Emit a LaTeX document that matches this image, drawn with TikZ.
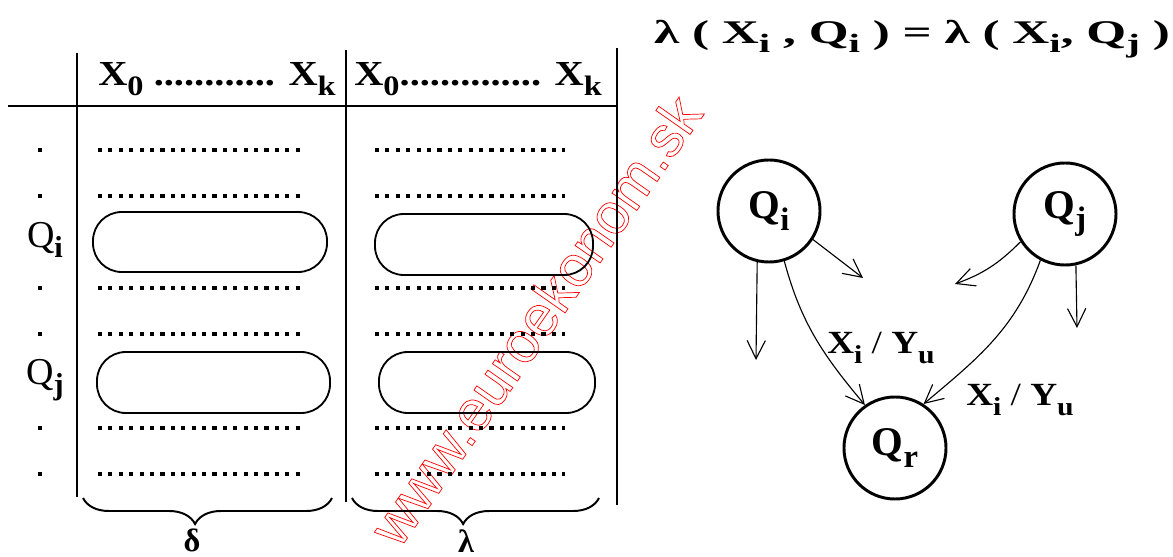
\documentclass[tikz,border=0pt]{standalone}
\usepackage{fontspec}
\setmainfont{Liberation Serif}
\newfontfamily\markfont{Liberation Sans}
\usetikzlibrary{arrows.meta,decorations.pathreplacing}

\newcommand{\low}[1]{\raisebox{-0.28em}{\scalebox{0.8}{#1}}}
\newcommand{\wide}[1]{\scalebox{1.15}[1]{#1}}

\begin{document}
\begin{tikzpicture}[x=0.025cm,y=-0.025cm,
  rule/.style={line width=1.4pt},
  dotrow/.style={line width=2.9pt,dash pattern=on 2.9pt off 4.5pt},
  slot/.style={draw,line width=1.3pt,rounded corners=0.72cm},
  state/.style={circle,draw,line width=2.1pt,minimum size=2.55cm,inner sep=0pt,
                font=\fontsize{29}{30}\selectfont\bfseries},
  head/.style={font=\fontsize{25}{28}\selectfont\bfseries,inner sep=0pt,anchor=base west},
  lbl/.style={font=\fontsize{23}{26}\selectfont\bfseries,inner sep=0pt},
  rowq/.style={font=\fontsize{27}{28}\selectfont,inner sep=0pt},
  vee/.style={-{Straight Barb[length=13pt,width=13pt]},line width=0.8pt},
  brc/.style={decorate,decoration={brace,mirror,amplitude=0.65cm,aspect=0.45},line width=1.4pt}
]
\useasboundingbox (0,0) rectangle (1173,557);

% watermark
\node[rotate=55,text=red,font=\markfont\fontsize{41}{41}\selectfont] (mark) at (535,320)
  {\special{pdf:literal direct 1 Tr 0.5 w}www.euroekonom.sk\special{pdf:literal direct 0 Tr}};

% table frame
\draw[rule] (8,106) -- (617,106);
\draw[rule] (77,53) -- (77,497);
\draw[rule] (346,50) -- (346,502);
\draw[rule] (617,48) -- (617,505);

% column heads
\node[head] (h1) at (98,86) {\wide{X\low{0} ............ X\low{k}}};
\node[head] (h2) at (354,86) {\wide{X\low{0}.............. X\low{k}}};

% dotted rows and row marks
\foreach \y in {150,196,288,334,428,474}{
  \draw[dotrow] (98,\y) -- (302,\y);
  \draw[dotrow] (375,\y) -- (565,\y);
  \fill (38,\y-2) rectangle (42,\y+2);
}
\node[rowq] (ri) at (45,240) {Q\low{\textbf{i}}};
\node[rowq] (rj) at (45,380) {Q\low{\textbf{j}}};

% selected rows
\draw[slot] (93,212) rectangle (327,272);
\draw[slot] (97,352) rectangle (330,413);
\draw[slot] (375,214) rectangle (593,275);
\draw[slot] (379,352) rectangle (595,413);

% braces
\draw[brc] (83,498) -- (332,498);
\draw[brc] (352,498) -- (599,498);
\node[lbl,anchor=north] (d) at (192,529) {δ};
\node[lbl,anchor=north] (l) at (466,529) {λ};

% formula
\node[font=\fontsize{23.5}{26}\selectfont\bfseries,inner sep=0pt] (eq) at (912,39)
  {\scalebox{1.55}[1]{λ ( X\low{i} , Q\low{i} ) =  λ ( X\low{i}, Q\low{j} )}};

% automaton
\node[state] (qi) at (769,211) {Q\low{i}};
\node[state] (qj) at (1065,214) {Q\low{j}};
\node[state] (qr) at (895,448) {Q\low{r}};

\coordinate (ia) at (756,360);
\coordinate (ib) at (863,278);
\coordinate (ja) at (955,284);
\coordinate (jb) at (1077,328);

\draw[vee] (qi.-103) -- (ia);
\draw[vee] (qi.-33) -- (ib);
\draw[vee] (qj.-148) to[out=-135,in=20] (ja);
\draw[vee] (qj.-78) -- (jb);
\draw[vee] (qi.-73) to[out=-75,in=130] (qr.125);
\draw[vee] (qj.-118) to[out=-110,in=40] (qr.57);

\node[lbl] (e1) at (881,348) {\wide{X\low{i} {\mdseries/} Y\low{u}}};
\node[lbl] (e2) at (1020,400) {\wide{X\low{i} {\mdseries/} Y\low{u}}};
\end{tikzpicture}
\end{document}
